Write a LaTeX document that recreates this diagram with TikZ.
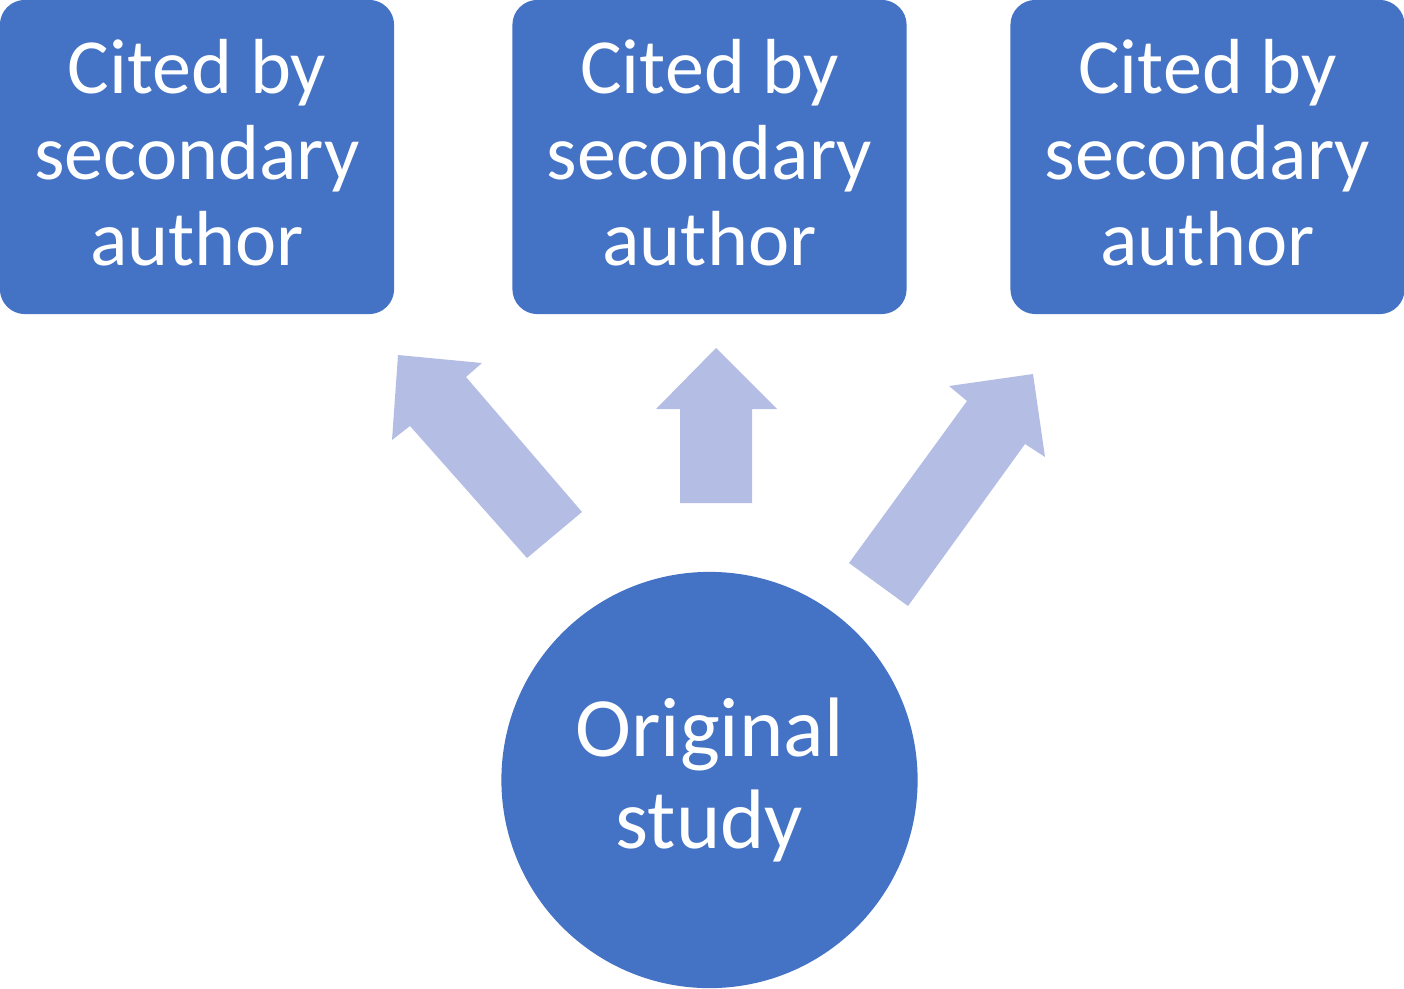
\documentclass[tikz,border=0pt]{standalone}
\usepackage{fontspec}
\setmainfont{Carlito}
\definecolor{boxblue}{HTML}{4472C4}
\definecolor{arrowfill}{RGB}{180,190,228}
\begin{document}
\begin{tikzpicture}[x=0.01cm,y=-0.01cm,
  citebox/.style={fill=boxblue, draw=none, rounded corners=0.25cm,
    minimum width=3.94cm, minimum height=3.14cm, inner sep=0pt},
  citetext/.style={text=white, align=center, inner sep=0pt,
    font=\fontsize{22.2}{24.5}\selectfont},
  origin/.style={circle, fill=boxblue, draw=none, minimum size=4.16cm, inner sep=0pt,
    text=white, align=center, font=\fontsize{24}{26.2}\selectfont},
  blockarrow/.style={fill=arrowfill, draw=none}]
\useasboundingbox (0,0) rectangle (1404,988);
\node[citebox] (c1) at (197,157) {};
\node[citebox] (c2) at (709.5,157) {};
\node[citebox] (c3) at (1207.5,157) {};
\node[citetext] (t1) at ([yshift=0.04cm]c1.center) {Cited by\\secondary\\author};
\node[citetext] (t2) at ([yshift=0.04cm]c2.center) {Cited by\\secondary\\author};
\node[citetext] (t3) at ([yshift=0.04cm]c3.center) {Cited by\\secondary\\author};
\node[origin] (o) at (709.5,780) {Original\\study};
% block arrows
\fill[blockarrow] (398,355) -- (482,363) -- (466,377) -- (582,512) -- (527,558) -- (410,426) -- (392,440) -- cycle;
\fill[blockarrow] (716,348) -- (777,409) -- (752,409) -- (752,503) -- (680,503) -- (680,409) -- (656,409) -- cycle;
\fill[blockarrow] (1033,374) -- (1045,457) -- (1025,444) -- (908,606) -- (849,563) -- (967,401) -- (949,386) -- cycle;
\end{tikzpicture}
\end{document}
